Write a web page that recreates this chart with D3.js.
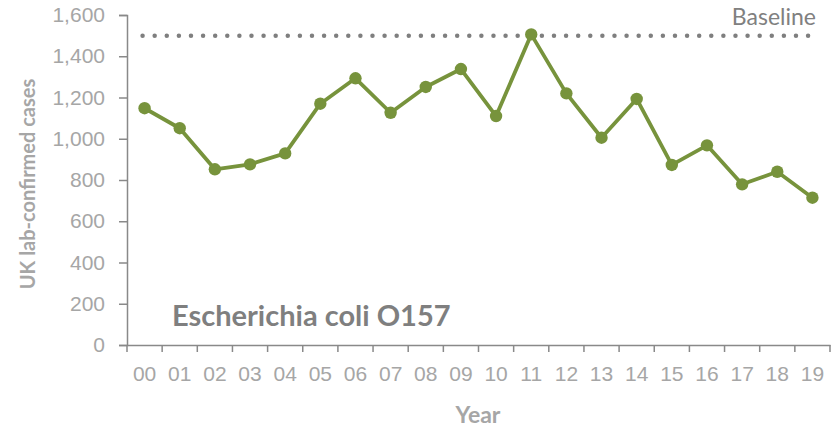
<!DOCTYPE html>
<html>
<head>
<meta charset="utf-8">
<script src="https://cdn.jsdelivr.net/npm/d3@7"></script>
<style>
  body { margin: 0; background: #fff; }
  svg { font-family: Lato, "Open Sans", sans-serif; }
</style>
</head>
<body>
<svg width="839" height="427"></svg>
<script>
// E. coli O157 lab-confirmed cases, UK
const years = ['00','01','02','03','04','05','06','07','08','09','10','11','12','13','14','15','16','17','18','19'];
const cases = [1148, 1051, 852, 876, 929, 1170, 1293, 1126, 1251, 1338, 1110, 1506, 1220, 1005, 1193, 873, 968, 779, 840, 714];
const baseline = 1500;
const yTicks = [0, 200, 400, 600, 800, 1000, 1200, 1400, 1600];

const svg = d3.select('svg');
const plotLeft = 127, plotRight = 830, plotTop = 15, plotBottom = 345;
const green = '#77933c';
const axisGrey = '#898989';
const labelGrey = '#a6a6a6';

const x = d3.scaleBand().domain(years).range([plotLeft, plotRight]);
const y = d3.scaleLinear().domain([0, 1600]).range([plotBottom, plotTop]);

// y axis
const yAxis = svg.append('g')
  .attr('transform', `translate(${plotLeft},0)`)
  .call(d3.axisLeft(y).tickValues(yTicks).tickSize(8).tickPadding(14).tickFormat(d3.format(',')));
yAxis.select('.domain').attr('stroke', axisGrey).attr('stroke-width', 1.5);
yAxis.selectAll('.tick line').attr('stroke', axisGrey).attr('stroke-width', 1.5);
yAxis.selectAll('.tick text').attr('fill', labelGrey).style('font-size', '21px');

// x axis
const xAxis = svg.append('g')
  .attr('transform', `translate(0,${plotBottom})`)
  .call(d3.axisBottom(x).tickSize(0).tickPadding(21));
xAxis.select('.domain').attr('stroke', axisGrey).attr('stroke-width', 1.5);
xAxis.selectAll('.tick text').attr('fill', labelGrey).style('font-size', '21px');
// ticks sit between categories
xAxis.selectAll('.sep')
  .data(d3.range(years.length + 1))
  .enter().append('line')
  .attr('x1', i => plotLeft + i * x.step())
  .attr('x2', i => plotLeft + i * x.step())
  .attr('y1', 0).attr('y2', 7)
  .attr('stroke', axisGrey).attr('stroke-width', 1.5);

// baseline
svg.append('line')
  .attr('x1', x(years[0]) + x.bandwidth() / 2 - 2)
  .attr('x2', x(years[years.length - 1]) + x.bandwidth() / 2 + 2)
  .attr('y1', y(baseline)).attr('y2', y(baseline))
  .attr('stroke', '#7f7f7f')
  .attr('stroke-width', 4.5)
  .attr('stroke-linecap', 'round')
  .attr('stroke-dasharray', '0 12.1');

svg.append('text')
  .attr('x', 816).attr('y', 25)
  .attr('text-anchor', 'end')
  .attr('fill', '#808080')
  .style('font-size', '23px')
  .text('Baseline');

// series line
const line = d3.line()
  .x((d, i) => x(years[i]) + x.bandwidth() / 2)
  .y(d => y(d));

svg.append('path')
  .datum(cases)
  .attr('d', line)
  .attr('fill', 'none')
  .attr('stroke', green)
  .attr('stroke-width', 3.8)
  .attr('stroke-linejoin', 'round');

svg.selectAll('.dot')
  .data(cases)
  .enter().append('circle')
  .attr('cx', (d, i) => x(years[i]) + x.bandwidth() / 2)
  .attr('cy', d => y(d))
  .attr('r', 6.2)
  .attr('fill', green);

// chart label
svg.append('text')
  .attr('x', 172).attr('y', 326)
  .attr('fill', '#7f7f7f')
  .style('font-size', '29px')
  .style('font-weight', 'bold')
  .text('Escherichia coli O157');

// axis titles
svg.append('text')
  .attr('x', 478).attr('y', 423)
  .attr('text-anchor', 'middle')
  .attr('fill', labelGrey)
  .style('font-size', '23px')
  .style('font-weight', 'bold')
  .text('Year');

svg.append('text')
  .attr('transform', 'translate(35,184) rotate(-90)')
  .attr('text-anchor', 'middle')
  .attr('fill', labelGrey)
  .style('font-size', '20px')
  .style('font-weight', 'bold')
  .text('UK lab-confirmed cases');
</script>
</body>
</html>
